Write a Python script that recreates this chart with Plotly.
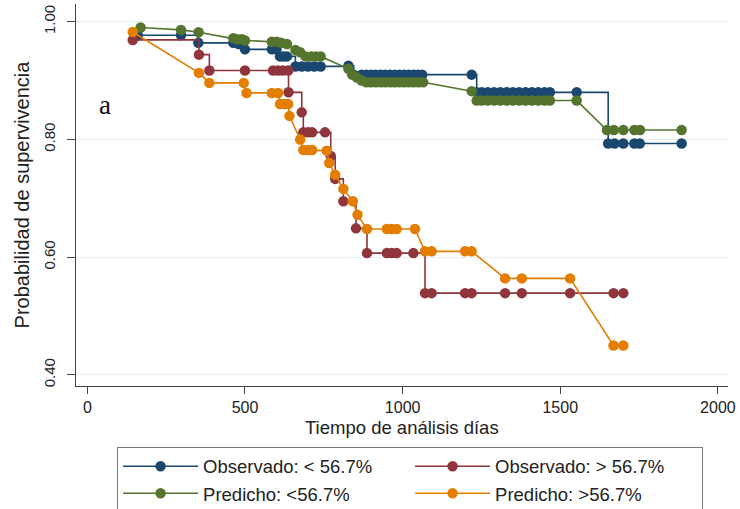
import plotly.graph_objects as go

# Observado: < 56.7% (step function)
obs_lo_x = [160, 297, 352, 463, 480, 500, 585, 600, 611, 622, 633, 660, 680, 700, 720, 740, 828,
            845, 870, 885, 900, 915, 930, 945, 960, 975, 990, 1005, 1020, 1035, 1050, 1062, 1219,
            1235, 1251, 1270, 1290, 1310, 1330, 1350, 1370, 1390, 1410, 1430, 1450, 1467, 1552,
            1652, 1672, 1700, 1735, 1752, 1885]
obs_lo_y = [0.977, 0.977, 0.964, 0.964, 0.962, 0.953, 0.953, 0.953, 0.941, 0.941, 0.941, 0.924, 0.924,
            0.924, 0.924, 0.924, 0.925,
            0.910, 0.910, 0.910, 0.910, 0.910, 0.910, 0.910, 0.910, 0.910, 0.910, 0.910, 0.910, 0.910,
            0.910, 0.910, 0.910,
            0.880, 0.880, 0.880, 0.880, 0.880, 0.880, 0.880, 0.880, 0.880, 0.880, 0.880, 0.880, 0.880,
            0.880, 0.793, 0.793, 0.793, 0.793, 0.793, 0.793]

# Observado: > 56.7% (step function)
obs_hi_x = [144, 354, 387, 500, 589, 605, 620, 637, 638, 680, 685, 700, 713, 754, 772, 786, 812, 852,
            887, 950, 965, 981, 1034, 1071, 1092, 1198, 1219, 1325, 1378, 1531, 1669, 1700]
obs_hi_y = [0.969, 0.944, 0.917, 0.917, 0.917, 0.917, 0.917, 0.917, 0.880, 0.846, 0.812, 0.812, 0.812,
            0.812, 0.772, 0.733, 0.695, 0.649, 0.607, 0.607, 0.607, 0.607, 0.607, 0.539, 0.539, 0.539,
            0.539, 0.539, 0.539, 0.539, 0.539, 0.539]

# Predicho: <56.7%
pred_lo_x = [169, 297, 353, 463, 475, 490, 500, 585, 600, 615, 633, 660, 675, 692, 710, 725, 740, 828,
             840, 855, 870, 885, 900, 915, 930, 945, 960, 975, 990, 1005, 1020, 1035, 1050, 1065, 1219,
             1235, 1251, 1270, 1290, 1310, 1330, 1350, 1370, 1390, 1410, 1430, 1450, 1467, 1552,
             1648, 1670, 1700, 1735, 1753, 1885]
pred_lo_y = [0.990, 0.986, 0.982, 0.972, 0.970, 0.970, 0.968, 0.966, 0.966, 0.964, 0.962, 0.952, 0.948,
             0.941, 0.941, 0.941, 0.941, 0.920, 0.910, 0.905, 0.900, 0.897, 0.897, 0.897, 0.897, 0.897,
             0.897, 0.897, 0.897, 0.897, 0.897, 0.897, 0.897, 0.897, 0.882,
             0.866, 0.866, 0.866, 0.866, 0.866, 0.866, 0.866, 0.866, 0.866, 0.866, 0.866, 0.866, 0.866,
             0.866, 0.816, 0.816, 0.816, 0.816, 0.816, 0.816]

# Predicho: >56.7%
pred_hi_x = [144, 354, 387, 496, 505, 585, 605, 611, 625, 637, 641, 675, 685, 700, 713, 759, 767, 786,
             812, 842, 857, 887, 950, 965, 981, 1039, 1071, 1092, 1198, 1219, 1325, 1378, 1531, 1669, 1700]
pred_hi_y = [0.9825, 0.913, 0.896, 0.896, 0.879, 0.879, 0.879, 0.860, 0.860, 0.860, 0.840, 0.800, 0.782,
             0.782, 0.782, 0.781, 0.760, 0.740, 0.716, 0.695, 0.672, 0.648, 0.648, 0.648, 0.648, 0.648,
             0.610, 0.610, 0.610, 0.610, 0.564, 0.564, 0.564, 0.450, 0.450]

x_ticks = [0, 500, 1000, 1500, 2000]
y_ticks = [0.40, 0.60, 0.80, 1.00]
y_tick_text = ["0.40", "0.60", "0.80", "1.00"]

NAVY = "#1a476f"
MAROON = "#90353b"
GREEN = "#55752f"
ORANGE = "#e37e00"

FONT = "Liberation Sans, Arial, Helvetica, sans-serif"

fig = go.Figure()

def add(x, y, name, color, shape):
    fig.add_trace(go.Scatter(
        x=x, y=y, name=name, mode="lines+markers",
        line=dict(color=color, width=1.6, shape=shape),
        marker=dict(color=color, size=10.5, line=dict(width=0)),
    ))

add(obs_lo_x, obs_lo_y, "Observado: < 56.7%", NAVY, "hv")
add(obs_hi_x, obs_hi_y, "Observado: > 56.7%", MAROON, "hv")
add(pred_lo_x, pred_lo_y, "Predicho: <56.7%", GREEN, "linear")
add(pred_hi_x, pred_hi_y, "Predicho: >56.7%", ORANGE, "linear")

fig.add_annotation(text="a", x=56, y=0.858, xref="x", yref="y", showarrow=False,
                   font=dict(family="Liberation Serif, Times New Roman, serif", size=27, color="#111"))

# x-axis title
fig.add_annotation(text="Tiempo de análisis días", x=0.5, y=-0.108, xref="paper", yref="paper",
                   xanchor="center", yanchor="middle", showarrow=False,
                   font=dict(family=FONT, size=18.5, color="#222"))

fig.update_layout(
    width=740, height=509,
    margin=dict(l=76, r=12, t=4, b=123, autoexpand=False),
    paper_bgcolor="white", plot_bgcolor="white",
    font=dict(family=FONT, color="#222", size=15),
    showlegend=True,
    legend=dict(
        orientation="h", x=0.063, xanchor="left", y=-0.159, yanchor="top",
        bordercolor="#777", borderwidth=1, bgcolor="white",
        font=dict(size=18.5, family=FONT, color="#222"),
        entrywidth=202, entrywidthmode="pixels", itemwidth=75,
        tracegroupgap=0,
    ),
    xaxis=dict(
        range=[-36, 2032], tickvals=x_ticks, ticks="outside", ticklen=7, tickcolor="#444",
        showline=True, linecolor="#444", linewidth=1, showgrid=False, zeroline=False,
        tickfont=dict(size=16),
    ),
    yaxis=dict(
        range=[0.3813, 1.03], tickvals=y_ticks, ticktext=y_tick_text, tickangle=-90,
        ticks="outside", ticklen=8, tickcolor="#444",
        showline=True, linecolor="#444", linewidth=1, showgrid=True, gridcolor="#e6eff1", gridwidth=1,
        zeroline=False, tickfont=dict(size=15), ticklabelstandoff=6,
        title=dict(text="Probabilidad de supervivencia", font=dict(size=20), standoff=6),
    ),
)

fig.write_html("out.html")
